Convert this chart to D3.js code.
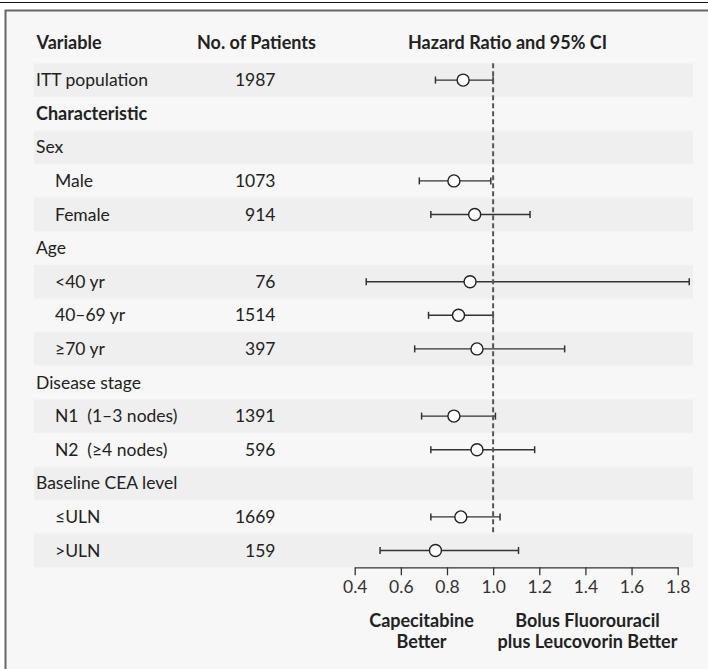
<!DOCTYPE html>
<html>
<head>
<meta charset="utf-8">
<script src="https://cdn.jsdelivr.net/npm/d3@7"></script>
<style>
  body { margin: 0; background: #fff; }
  svg text { font-family: Lato, "Open Sans", sans-serif; fill: #222; }
</style>
</head>
<body>
<div id="chart"></div>
<script>
var width = 708;
var height = 669;

// Data
var labels = ["ITT population", "Characteristic", "Sex", "Male", "Female", "Age",
    "<40 yr", "40\u201369 yr", "\u226570 yr", "Disease stage", "N1\u2002(1\u20133 nodes)",
    "N2\u2002(\u22654 nodes)", "Baseline CEA level", "\u2264ULN", ">ULN"];
var indent = [0, 0, 0, 1, 1, 0, 1, 1, 1, 0, 1, 1, 0, 1, 1];
var bold = [false, true, false, false, false, false, false, false, false, false, false, false, false, false, false];
var patients = [1987, null, null, 1073, 914, null, 76, 1514, 397, null, 1391, 596, null, 1669, 159];
var hr = [0.87, null, null, 0.83, 0.92, null, 0.90, 0.85, 0.93, null, 0.83, 0.93, null, 0.86, 0.75];
var lower = [0.75, null, null, 0.68, 0.73, null, 0.45, 0.72, 0.66, null, 0.69, 0.73, null, 0.73, 0.51];
var upper = [1.00, null, null, 0.99, 1.16, null, 1.85, 1.00, 1.31, null, 1.01, 1.18, null, 1.03, 1.11];
var ticks = [0.4, 0.6, 0.8, 1.0, 1.2, 1.4, 1.6, 1.8];

var rows = labels.map(function (l, i) {
    return { label: l, indent: indent[i], bold: bold[i], n: patients[i], hr: hr[i], lo: lower[i], hi: upper[i] };
});

var rowTop = 63.3;
var rowH = 33.6;
var bandLeft = 34, bandRight = 693;
var fs = "17.5px";
var fsBold = "18px";

var svg = d3.select("#chart").append("svg")
    .attr("width", width)
    .attr("height", height);

// frame
svg.append("line")
    .attr("x1", 0).attr("x2", width).attr("y1", 2.5).attr("y2", 2.5)
    .style("stroke", "#111").style("stroke-width", 1.2);
svg.append("rect")
    .attr("x", 5.5).attr("y", 10.5).attr("width", width + 20).attr("height", height)
    .style("fill", "#f7f7f7").style("stroke", "#666").style("stroke-width", 2);

var y = function (i) { return rowTop + i * rowH; };
var x = d3.scaleLinear().domain([0.4, 1.8]).range([354.7, 677.7]);

// stripes
svg.selectAll("rect.band")
    .data(rows.filter(function (d, i) { return i % 2 === 0; }))
    .enter().append("rect")
    .attr("class", "band")
    .attr("x", bandLeft)
    .attr("y", function (d) { return y(rows.indexOf(d)); })
    .attr("width", bandRight - bandLeft)
    .attr("height", rowH)
    .style("fill", "#efefef");

// headers
var head = svg.append("g").style("font-size", fsBold).style("font-weight", "bold");
head.append("text").attr("x", 36.5).attr("y", 48.5).text("Variable");
head.append("text").attr("x", 197).attr("y", 48.5).text("No. of Patients");
head.append("text").attr("x", 507.5).attr("y", 48.5).attr("text-anchor", "middle").text("Hazard Ratio and 95% CI");

// row labels and counts
var rg = svg.selectAll("g.row")
    .data(rows)
    .enter().append("g")
    .attr("class", "row")
    .attr("transform", function (d, i) { return "translate(0," + (y(i) + rowH / 2) + ")"; });

rg.append("text")
    .attr("x", function (d) { return d.indent ? 55 : 36; })
    .attr("dy", "0.35em")
    .style("font-size", function (d) { return d.bold ? fsBold : fs; })
    .style("font-weight", function (d) { return d.bold ? "bold" : "normal"; })
    .text(function (d) { return d.label; });

rg.filter(function (d) { return d.n !== null; })
    .append("text")
    .attr("x", 275.5)
    .attr("dy", "0.35em")
    .attr("text-anchor", "end")
    .style("font-size", fs)
    .text(function (d) { return d.n; });

// reference line at HR = 1
svg.append("line")
    .attr("x1", x(1)).attr("x2", x(1))
    .attr("y1", rowTop).attr("y2", y(14))
    .style("stroke", "#555").style("stroke-width", 2).style("stroke-dasharray", "5,3");

// CIs
var ci = rg.filter(function (d) { return d.hr !== null; });
ci.append("line")
    .attr("x1", function (d) { return x(d.lo); })
    .attr("x2", function (d) { return x(d.hi); })
    .style("stroke", "#333").style("stroke-width", 1.4);
ci.append("line")
    .attr("x1", function (d) { return x(d.lo); })
    .attr("x2", function (d) { return x(d.lo); })
    .attr("y1", -3.5).attr("y2", 3.5)
    .style("stroke", "#333").style("stroke-width", 1.5);
ci.append("line")
    .attr("x1", function (d) { return x(d.hi); })
    .attr("x2", function (d) { return x(d.hi); })
    .attr("y1", -3.5).attr("y2", 3.5)
    .style("stroke", "#333").style("stroke-width", 1.5);
ci.append("circle")
    .attr("cx", function (d) { return x(d.hr); })
    .attr("r", 6)
    .style("fill", "#fff").style("stroke", "#222").style("stroke-width", 1.4);

// axis
var axis = svg.append("g")
    .attr("transform", "translate(0," + y(15) + ")")
    .call(d3.axisBottom(x).tickValues(ticks).tickFormat(d3.format(".1f")).tickSize(8).tickSizeOuter(0));
axis.select(".domain").style("stroke", "#333").style("stroke-width", 1.3);
axis.selectAll(".tick line").style("stroke", "#333").style("stroke-width", 1.3);
axis.selectAll(".tick text")
    .style("font-family", "Lato, 'Open Sans', sans-serif")
    .style("font-size", fs).style("fill", "#333")
    .attr("y", 13);

// direction labels
var dir = svg.append("g").style("font-size", fsBold).style("font-weight", "bold").attr("text-anchor", "middle");
dir.append("text").attr("x", 421.5).attr("y", 627).text("Capecitabine");
dir.append("text").attr("x", 421.5).attr("y", 648).text("Better");
dir.append("text").attr("x", 587.5).attr("y", 627).text("Bolus Fluorouracil");
dir.append("text").attr("x", 587.5).attr("y", 648).text("plus Leucovorin Better");
</script>
</body>
</html>
